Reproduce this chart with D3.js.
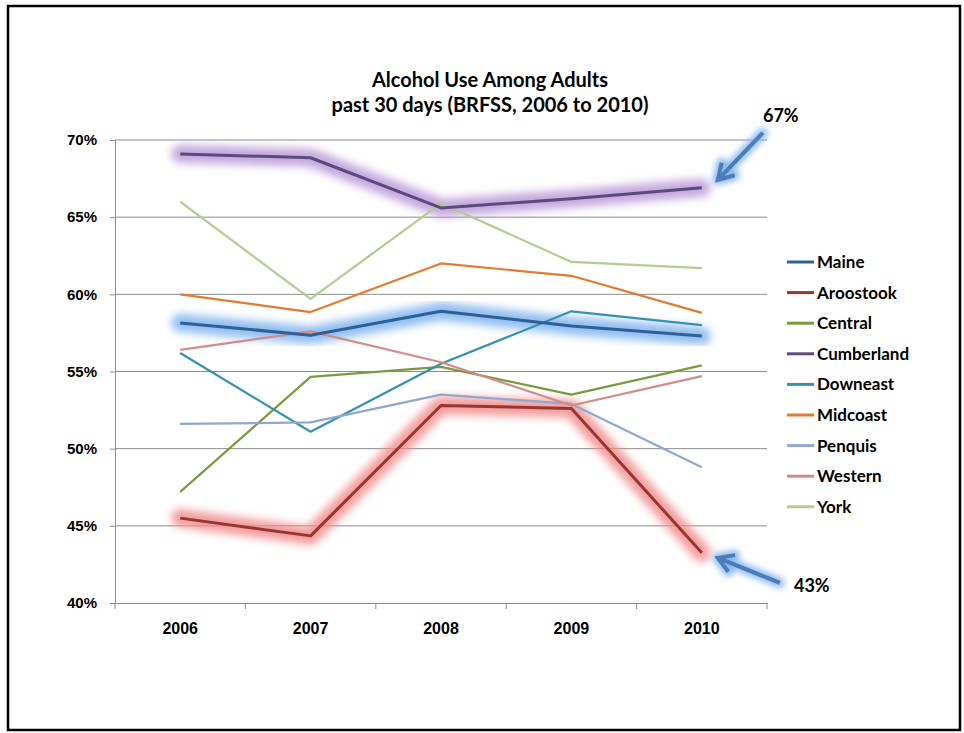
<!DOCTYPE html>
<html>
<head>
<meta charset="utf-8">
<script src="https://cdn.jsdelivr.net/npm/d3@7"></script>
<style>
  html, body { margin: 0; padding: 0; background: #fff; }
  svg { display: block; font-family: Lato, "Open Sans", sans-serif; }
</style>
</head>
<body>
<svg id="chart" width="964" height="733"></svg>
<script>
// Survey years on the x axis
const years = ["2006", "2007", "2008", "2009", "2010"];

// Percent of adults reporting alcohol use in the past 30 days
const maine      = [58.15, 57.35, 58.9, 57.95, 57.3];
const aroostook  = [45.5, 44.35, 52.8, 52.6, 43.25];
const central    = [47.2, 54.65, 55.3, 53.5, 55.4];
const cumberland = [69.1, 68.85, 65.6, 66.2, 66.9];
const downeast   = [56.2, 51.1, 55.5, 58.9, 58.0];
const midcoast   = [60.0, 58.85, 62.0, 61.2, 58.8];
const penquis    = [51.6, 51.7, 53.5, 52.9, 48.8];
const western    = [56.4, 57.6, 55.6, 52.8, 54.7];
const york       = [66.0, 59.7, 65.9, 62.1, 61.7];

const regionNames = ["Maine", "Aroostook", "Central", "Cumberland", "Downeast",
                     "Midcoast", "Penquis", "Western", "York"];
const regionValues = [maine, aroostook, central, cumberland, downeast,
                      midcoast, penquis, western, york];
const regionColors = ["#2F5F98", "#9B3532", "#7A9A3E", "#5E4880", "#3592AE",
                      "#E47A2E", "#90A8D0", "#D48A88", "#B5CC90"];
// Highlighted regions get a soft halo behind their line
const haloColors = { Maine: "#7FB2EE", Aroostook: "#F08C8C", Cumberland: "#B99AD8" };

const yTicks = [40, 45, 50, 55, 60, 65, 70];
const callouts = [
  { region: "Cumberland", year: "2010", label: "67%" },
  { region: "Aroostook", year: "2010", label: "43%" }
];

const svg = d3.select("#chart");

// Outer frame
svg.append("rect")
  .attr("x", 8).attr("y", 6).attr("width", 952).attr("height", 724)
  .attr("fill", "none").attr("stroke", "#000").attr("stroke-width", 2.5);

const plot = { left: 115, right: 767, top: 140, bottom: 603 };

const x = d3.scaleBand().domain(years).range([plot.left, plot.right]);
const y = d3.scaleLinear().domain([40, 70]).range([plot.bottom, plot.top]);

const defs = svg.append("defs");
defs.append("filter").attr("id", "halo")
  .attr("x", "-20%").attr("y", "-40%").attr("width", "140%").attr("height", "180%")
  .append("feGaussianBlur").attr("stdDeviation", 4.5);

// Gridlines
svg.append("g").selectAll("line")
  .data(yTicks.filter(t => t > 40))
  .join("line")
  .attr("x1", plot.left).attr("x2", plot.right)
  .attr("y1", d => y(d)).attr("y2", d => y(d))
  .attr("stroke", "#8C8C8C").attr("stroke-width", 1);

// Y axis
const yAxis = svg.append("g")
  .attr("transform", `translate(${plot.left},0)`)
  .call(d3.axisLeft(y).tickValues(yTicks).tickFormat(d => d + "%").tickSize(5).tickPadding(13));
yAxis.select(".domain").attr("stroke", "#8C8C8C");
yAxis.selectAll(".tick line").attr("stroke", "#8C8C8C");
yAxis.selectAll("text").attr("font-size", 15).attr("font-weight", 700).attr("fill", "#000");

// X axis
const xAxis = svg.append("g")
  .attr("transform", `translate(0,${plot.bottom})`)
  .call(d3.axisBottom(x).tickSize(0).tickPadding(20));
xAxis.select(".domain").attr("stroke", "#8C8C8C");
xAxis.selectAll("text").attr("font-size", 16).attr("font-weight", 700).attr("fill", "#000");
// Category dividers
xAxis.append("g").selectAll("line")
  .data(years.concat(["end"]))
  .join("line")
  .attr("x1", (d, i) => plot.left + i * x.bandwidth())
  .attr("x2", (d, i) => plot.left + i * x.bandwidth())
  .attr("y1", 0).attr("y2", 6)
  .attr("stroke", "#8C8C8C");

const line = d3.line()
  .x((d, i) => x(years[i]) + x.bandwidth() / 2)
  .y(d => y(d));

const series = regionNames.map((name, i) => ({
  name, values: regionValues[i], color: regionColors[i], halo: haloColors[name]
}));

// Halos first so every line sits above them
svg.append("g").selectAll("path")
  .data(series.filter(s => s.halo))
  .join("path")
  .attr("d", s => line(s.values))
  .attr("fill", "none")
  .attr("stroke", s => s.halo)
  .attr("stroke-width", 18)
  .attr("stroke-linejoin", "round")
  .attr("stroke-linecap", "round")
  .attr("opacity", 0.85)
  .attr("filter", "url(#halo)");

// Draw plain lines first, highlighted ones on top
const order = series.filter(s => !s.halo).concat(series.filter(s => s.halo));
svg.append("g").selectAll("path")
  .data(order)
  .join("path")
  .attr("d", s => line(s.values))
  .attr("fill", "none")
  .attr("stroke", s => s.color)
  .attr("stroke-width", s => s.halo ? 3 : 2.2)
  .attr("stroke-linejoin", "round");

// Title
const title = svg.append("text")
  .attr("x", 490).attr("text-anchor", "middle")
  .attr("font-size", 20).attr("font-weight", 700).attr("fill", "#000");
title.append("tspan").attr("x", 490).attr("y", 87).text("Alcohol Use Among Adults");
title.append("tspan").attr("x", 490).attr("y", 112).text("past 30 days (BRFSS, 2006 to 2010)");

// Legend
const legend = svg.append("g");
const legendRows = legend.selectAll("g")
  .data(series)
  .join("g")
  .attr("transform", (d, i) => `translate(787,${262 + i * 30.6})`);
legendRows.append("line")
  .attr("x1", 0).attr("x2", 27).attr("y1", 0).attr("y2", 0)
  .attr("stroke", d => d.color).attr("stroke-width", 3);
legendRows.append("text")
  .attr("x", 30).attr("y", 6)
  .attr("font-size", 17).attr("font-weight", 700).attr("fill", "#000")
  .text(d => d.name);

// Callout arrows pointing at the final-year values
defs.append("filter").attr("id", "arrowGlow")
  .attr("x", "-50%").attr("y", "-50%").attr("width", "200%").attr("height", "200%")
  .append("feGaussianBlur").attr("stdDeviation", 3);

function endPoint(c) {
  const s = series.find(d => d.name === c.region);
  const idx = years.indexOf(c.year);
  return [x(c.year) + x.bandwidth() / 2, y(s.values[idx])];
}

const arrowSpecs = callouts.map(c => {
  const [px, py] = endPoint(c);
  if (c.region === "Cumberland") {
    return { tail: [px + 61, py - 55], head: [px + 16, py - 8], label: c.label, lx: px + 79, ly: py - 66 };
  }
  return { tail: [px + 78, py + 30], head: [px + 16, py + 5], label: c.label, lx: px + 110, ly: py + 39 };
});

const arrows = svg.append("g");
arrowSpecs.forEach(a => {
  const dx = a.head[0] - a.tail[0], dy = a.head[1] - a.tail[1];
  const len = Math.hypot(dx, dy), ux = dx / len, uy = dy / len;
  const px = -uy, py = ux, hl = 15, hw = 9;
  const wing1 = [a.head[0] - ux * hl + px * hw, a.head[1] - uy * hl + py * hw];
  const wing2 = [a.head[0] - ux * hl - px * hw, a.head[1] - uy * hl - py * hw];
  const d = `M${a.tail[0]},${a.tail[1]}L${a.head[0]},${a.head[1]}` +
            `M${wing1[0]},${wing1[1]}L${a.head[0]},${a.head[1]}L${wing2[0]},${wing2[1]}`;
  arrows.append("path").attr("d", d).attr("fill", "none")
    .attr("stroke", "#8CB8EE").attr("stroke-width", 10)
    .attr("stroke-linecap", "round").attr("stroke-linejoin", "round")
    .attr("filter", "url(#arrowGlow)");
  arrows.append("path").attr("d", d).attr("fill", "none")
    .attr("stroke", "#4A7EBB").attr("stroke-width", 4)
    .attr("stroke-linecap", "butt").attr("stroke-linejoin", "miter");
  arrows.append("text").attr("x", a.lx).attr("y", a.ly)
    .attr("text-anchor", "middle")
    .attr("font-size", 18).attr("font-weight", 700).attr("fill", "#000")
    .text(a.label);
});
</script>
</body>
</html>
